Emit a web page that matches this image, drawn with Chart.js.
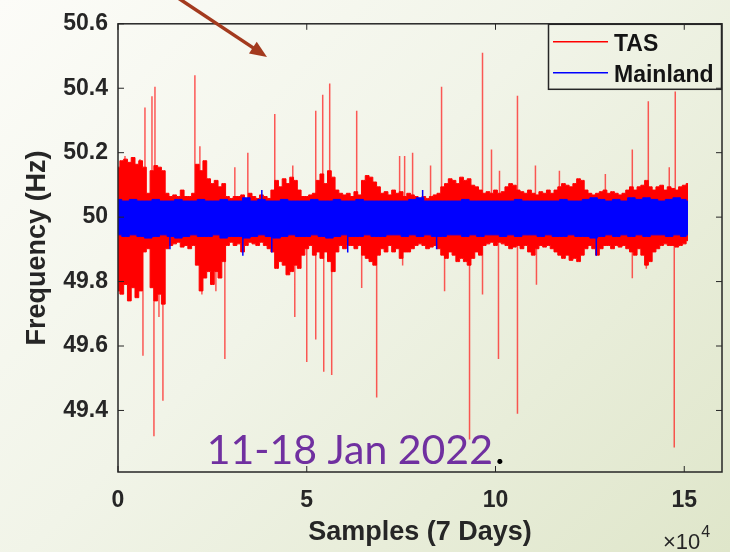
<!DOCTYPE html>
<html><head><meta charset="utf-8">
<script src="https://cdn.jsdelivr.net/npm/chart.js@4.4.1/dist/chart.umd.min.js"></script>
<style>
html,body{margin:0;padding:0;}
body{width:730px;height:552px;overflow:hidden;background:linear-gradient(135deg,#fcfcf8 0%,#f1f4e8 45%,#dfe6ca 100%);}
#wrap{position:relative;width:730px;height:552px;}
</style></head><body><div id="wrap"><canvas id="c" width="730" height="552"></canvas></div>
<script>
// ---- data ----
const tasIdx = Array.from({length:152},(_, i)=>i*1000);               // sample grid, TAS envelope
const mainIdx = Array.from({length:77},(_, i)=>Math.min(i*2000,151000)); // sample grid, Mainland envelope
const tasHigh = [
 50.155,50.175,50.180,50.170,50.185,50.164,50.175,50.155,50.074,50.144,
 50.160,50.155,50.144,50.074,50.064,50.069,50.064,50.084,50.064,50.064,
 50.074,50.164,50.144,50.175,50.119,50.104,50.114,50.094,50.104,50.064,
 50.058,50.064,50.064,50.069,50.058,50.074,50.064,50.058,50.069,50.064,
 50.058,50.084,50.114,50.094,50.119,50.104,50.124,50.114,50.084,50.064,
 50.064,50.069,50.074,50.114,50.134,50.104,50.144,50.124,50.084,50.074,
 50.069,50.074,50.064,50.079,50.069,50.114,50.129,50.124,50.109,50.094,
 50.074,50.079,50.069,50.084,50.074,50.079,50.064,50.074,50.069,50.064,
 50.058,50.064,50.058,50.064,50.069,50.074,50.094,50.104,50.119,50.114,
 50.104,50.124,50.114,50.119,50.099,50.094,50.084,50.074,50.079,50.074,
 50.084,50.074,50.079,50.094,50.104,50.099,50.084,50.079,50.074,50.084,
 50.074,50.069,50.079,50.074,50.084,50.074,50.084,50.094,50.104,50.099,
 50.094,50.104,50.119,50.114,50.084,50.074,50.069,50.074,50.079,50.084,
 50.074,50.079,50.074,50.069,50.074,50.084,50.094,50.084,50.094,50.099,
 50.114,50.094,50.084,50.094,50.099,50.084,50.094,50.089,50.084,50.094,
 50.099,50.104];
const tasLow = [
 49.771,49.761,49.791,49.740,49.781,49.750,49.771,49.892,49.902,49.781,
 49.740,49.761,49.730,49.902,49.912,49.917,49.922,49.907,49.912,49.902,
 49.912,49.851,49.771,49.811,49.831,49.791,49.831,49.811,49.862,49.912,
 49.922,49.912,49.917,49.892,49.912,49.922,49.917,49.912,49.922,49.912,
 49.902,49.892,49.841,49.862,49.851,49.821,49.831,49.851,49.841,49.882,
 49.902,49.912,49.882,49.892,49.872,49.892,49.862,49.831,49.892,49.912,
 49.902,49.912,49.912,49.902,49.912,49.882,49.872,49.862,49.851,49.882,
 49.902,49.892,49.912,49.892,49.902,49.872,49.892,49.892,49.902,49.912,
 49.917,49.912,49.902,49.907,49.912,49.902,49.882,49.872,49.892,49.882,
 49.862,49.872,49.862,49.851,49.872,49.892,49.882,49.912,49.917,49.922,
 49.912,49.922,49.917,49.912,49.902,49.907,49.912,49.902,49.912,49.892,
 49.882,49.902,49.912,49.907,49.912,49.902,49.892,49.882,49.872,49.882,
 49.866,49.872,49.862,49.882,49.902,49.912,49.902,49.882,49.902,49.912,
 49.912,49.902,49.912,49.907,49.912,49.902,49.892,49.882,49.902,49.882,
 49.851,49.862,49.892,49.902,49.912,49.917,49.912,49.912,49.907,49.912,
 49.917,49.927];
const tasSpikeX = [1850,5820,6610,7140,9000,9520,9790,10850,11900,20370,21690,22220,25930,28310,
 30950,34390,41530,46300,46830,50000,52380,52380,54230,54500,56080,56610,57410,63230,64550,68520,
 74600,75400,75930,78040,82800,85710,86510,93120,96560,96560,98940,100790,101060,105820,105820,110580,110850,
 116930,129100,136240,136240,139950,140480,146030,147350,147620];
const tasSpikeY = [50.19,50.18,49.57,50.34,50.375,49.32,50.405,49.69,49.43,50.44,50.22,49.76,49.77,49.56,
 50.155,50.20,50.32,50.16,49.69,49.55,50.33,49.62,50.38,49.52,50.415,49.51,49.83,50.33,49.78,49.44,
 50.19,49.85,50.19,50.20,50.16,50.405,49.77,49.31,50.51,49.76,50.21,49.56,50.144,50.377,49.39,50.16,49.79,
 50.144,50.134,50.21,49.81,49.84,50.36,50.155,49.285,50.39];
const mainHigh = [50.055,50.05,50.055,50.05,50.05,50.055,50.05,50.05,50.055,50.05,
 50.05,50.055,50.05,50.05,50.055,50.05,50.05,50.06,50.05,50.055,
 50.05,50.05,50.055,50.05,50.05,50.05,50.055,50.05,50.05,50.055,
 50.05,50.05,50.055,50.05,50.05,50.05,50.05,50.05,50.05,50.055,
 50.06,50.05,50.05,50.05,50.05,50.05,50.055,50.05,50.05,50.05,
 50.05,50.05,50.05,50.055,50.05,50.05,50.05,50.05,50.05,50.055,
 50.05,50.05,50.055,50.06,50.055,50.05,50.055,50.05,50.06,50.055,
 50.06,50.055,50.05,50.055,50.06,50.055,50.05];
const mainLow = [49.945,49.94,49.945,49.94,49.935,49.94,49.945,49.94,49.935,49.94,
 49.945,49.94,49.94,49.945,49.935,49.94,49.94,49.935,49.94,49.945,
 49.94,49.935,49.94,49.945,49.94,49.94,49.945,49.94,49.935,49.94,
 49.945,49.94,49.94,49.945,49.94,49.94,49.945,49.945,49.94,49.945,
 49.94,49.945,49.94,49.94,49.945,49.945,49.94,49.945,49.94,49.945,
 49.945,49.94,49.945,49.94,49.945,49.945,49.94,49.945,49.94,49.94,
 49.945,49.94,49.94,49.935,49.94,49.945,49.94,49.945,49.94,49.945,
 49.94,49.945,49.945,49.94,49.945,49.94,49.945];
const mainSpikeX = [13760,33070,38100,40740,60850,80700,84400,126700];
const mainSpikeY = [49.90,49.88,50.084,49.89,49.89,50.084,49.90,49.88];
const xTickValues = [0,50000,100000,150000];
const xTickLabels = ['0','5','10','15'];
const yTickValues = [49.4,49.6,49.8,50,50.2,50.4,50.6];
const yTickLabels = ['49.4','49.6','49.8','50','50.2','50.4','50.6'];
const seriesNames = ['TAS','Mainland'];
const seriesColors = ['#ff0000','#0000ff'];
const noteText = '11-18 Jan 2022';

// ---- build datasets ----
const pts = (xs, ys) => xs.map((x,i)=>({x, y:ys[i]}));
const spikes = (xs, ys) => { const out=[]; xs.forEach((x,i)=>{ out.push({x,y:50},{x,y:ys[i]},{x,y:null}); }); return out; };

const datasets = [
  {label:'Mainland', data:pts(mainIdx, mainHigh), borderColor:seriesColors[1], backgroundColor:seriesColors[1], borderWidth:1, fill:'+1', pointRadius:0, stepped:'middle', order:0},
  {label:'Mainland lo', data:pts(mainIdx, mainLow), borderColor:seriesColors[1], borderWidth:1, fill:false, pointRadius:0, stepped:'middle', order:0},
  {label:'Mainland spikes', data:spikes(mainSpikeX, mainSpikeY), borderColor:seriesColors[1], borderWidth:1.5, fill:false, pointRadius:0, spanGaps:false, order:0},
  {label:'TAS', data:pts(tasIdx, tasHigh), borderColor:seriesColors[0], backgroundColor:seriesColors[0], borderWidth:1, fill:'+1', pointRadius:0, stepped:'middle', order:1},
  {label:'TAS lo', data:pts(tasIdx, tasLow), borderColor:seriesColors[0], borderWidth:1, fill:false, pointRadius:0, stepped:'middle', order:1},
  {label:'TAS spikes', data:spikes(tasSpikeX, tasSpikeY), borderColor:'rgba(255,20,20,0.7)', borderWidth:1.5, fill:false, pointRadius:0, spanGaps:false, order:1}
];

const tickFont = {family:'Liberation Sans', weight:'bold', size:23};
const titleFont = {family:'Liberation Sans', weight:'bold', size:27};

const deco = {
  id:'deco',
  afterDatasetsDraw(chart){
    const {ctx, chartArea:a, scales:{x,y}} = chart;
    ctx.save();
    // box + inward ticks
    ctx.strokeStyle='#262626'; ctx.lineWidth=1.5;
    ctx.strokeRect(a.left, a.top, a.right-a.left, a.bottom-a.top);
    ctx.beginPath();
    xTickValues.forEach(v=>{const px=x.getPixelForValue(v); ctx.moveTo(px,a.bottom); ctx.lineTo(px,a.bottom-6); ctx.moveTo(px,a.top); ctx.lineTo(px,a.top+6);});
    yTickValues.forEach(v=>{const py=y.getPixelForValue(v); ctx.moveTo(a.left,py); ctx.lineTo(a.left+6,py); ctx.moveTo(a.right,py); ctx.lineTo(a.right-6,py);});
    ctx.lineWidth=1; ctx.stroke();
    // legend
    const lw=174, lh=66, lx=a.right-lw, ly=a.top;
    ctx.lineWidth=1.5; ctx.strokeStyle='#262626';
    ctx.strokeRect(lx+0.5, ly+0.5, lw-1, lh-1);
    ctx.font='bold 23px "Liberation Sans"'; ctx.textBaseline='alphabetic'; ctx.fillStyle='#141414';
    [0,1].forEach(k=>{
      const yy = ly + 18 + k*31;
      ctx.strokeStyle=seriesColors[k]; ctx.lineWidth=1.5;
      ctx.beginPath(); ctx.moveTo(lx+5,yy); ctx.lineTo(lx+60,yy); ctx.stroke();
      ctx.fillText(seriesNames[k], lx+66, yy+9);
    });
    // annotation text
    ctx.font='41px Lato'; ctx.fillStyle='#7030a0';
    const tx = x.getPixelForValue(23500), ty = y.getPixelForValue(49.233);
    ctx.fillText(noteText, tx, ty);
    const w = ctx.measureText(noteText).width;
    ctx.fillStyle='#000'; ctx.fillText('.', tx+w+2, ty);
    // exponent label
    ctx.fillStyle='#262626'; ctx.font='22px "Liberation Sans"';
    ctx.fillText('\u00d710', a.right-59, 549);
    const ew = ctx.measureText('\u00d710').width;
    ctx.font='16px "Liberation Sans"';
    ctx.fillText('4', a.right-59+ew+1, 537);
    // arrow
    ctx.strokeStyle='#a33a1e'; ctx.fillStyle='#a33a1e'; ctx.lineWidth=3.5;
    const x0=166,y0=-10,x1=267,y1=57; const ang=Math.atan2(y1-y0,x1-x0);
    ctx.beginPath(); ctx.moveTo(x0,y0); ctx.lineTo(x1-12*Math.cos(ang), y1-12*Math.sin(ang)); ctx.stroke();
    ctx.beginPath(); ctx.moveTo(x1,y1);
    ctx.lineTo(x1-17*Math.cos(ang)+7*Math.sin(ang), y1-17*Math.sin(ang)-7*Math.cos(ang));
    ctx.lineTo(x1-17*Math.cos(ang)-7*Math.sin(ang), y1-17*Math.sin(ang)+7*Math.cos(ang));
    ctx.closePath(); ctx.fill();
    ctx.restore();
  }
};

new Chart(document.getElementById('c'), {
  type:'line',
  data:{datasets},
  options:{
    responsive:false, animation:false, parsing:false,
    layout:{padding:{top:15,right:8,left:0,bottom:0}},
    plugins:{legend:{display:false}, tooltip:{enabled:false}},
    elements:{line:{tension:0}},
    scales:{
      x:{type:'linear', min:0, max:160000,
        grid:{display:false, drawTicks:false}, border:{display:false},
        afterBuildTicks(s){ s.ticks = xTickValues.map(v=>({value:v})); },
        ticks:{font:tickFont, color:'#262626', padding:15, maxRotation:0,
          callback:(v)=>xTickLabels[xTickValues.indexOf(v)]},
        title:{display:true, text:'Samples (7 Days)', font:titleFont, color:'#262626', padding:{top:0,bottom:3}},
        afterFit(s){ s.height=80; }
      },
      y:{type:'linear', min:49.209, max:50.6,
        grid:{display:false, drawTicks:false}, border:{display:false},
        afterBuildTicks(s){ s.ticks = yTickValues.map(v=>({value:v})); },
        ticks:{font:tickFont, color:'#262626', padding:10,
          callback:(v)=>yTickLabels[yTickValues.indexOf(v)]},
        title:{display:true, text:'Frequency (Hz)', font:titleFont, color:'#262626', padding:{top:21,bottom:0}},
        afterFit(s){ s.width=118; }
      }
    }
  },
  plugins:[deco]
});
</script></body></html>
